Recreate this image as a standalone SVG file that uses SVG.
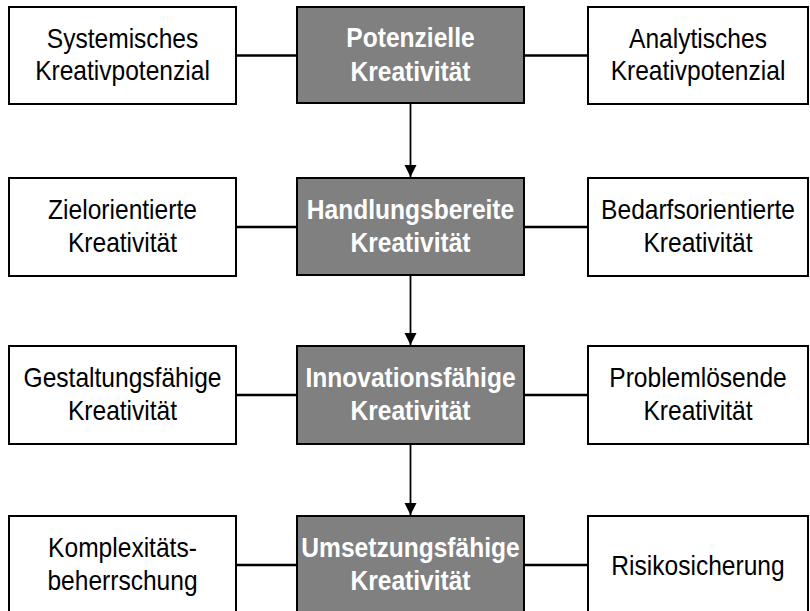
<svg xmlns="http://www.w3.org/2000/svg" width="810" height="611" viewBox="0 0 810 611">
<defs>
<style>
.side rect{fill:#fff;stroke:#000;stroke-width:2}
.core rect{fill:#808080;stroke:#000;stroke-width:2}
text{font-family:"Liberation Sans",Arial,sans-serif;font-size:27px;text-anchor:middle}
.side text{fill:#000}
.core text{fill:#fff;font-weight:bold}
.h{stroke:#000;stroke-width:2.5;fill:none}
.v{stroke:#000;stroke-width:1.8;fill:none}
</style>
<marker id="ah" viewBox="0 0 12 14" refX="12" refY="7" markerWidth="12" markerHeight="14" markerUnits="userSpaceOnUse" orient="auto">
<path d="M0,1 L12,7 L0,13 Z" fill="#000"/>
</marker>
</defs>
<rect width="810" height="611" fill="#fff"/>
<g id="connectors">
<line class="h" x1="236" y1="55.5" x2="297" y2="55.5"/>
<line class="h" x1="524" y1="55.5" x2="588" y2="55.5"/>
<line class="h" x1="236" y1="227" x2="297" y2="227"/>
<line class="h" x1="524" y1="227" x2="588" y2="227"/>
<line class="h" x1="236" y1="395" x2="297" y2="395"/>
<line class="h" x1="524" y1="395" x2="588" y2="395"/>
<line class="h" x1="236" y1="565" x2="297" y2="565"/>
<line class="h" x1="524" y1="565" x2="588" y2="565"/>
<line class="v" x1="410.5" y1="103" x2="410.5" y2="177" marker-end="url(#ah)"/>
<line class="v" x1="410.5" y1="275" x2="410.5" y2="345" marker-end="url(#ah)"/>
<line class="v" x1="410.5" y1="444" x2="410.5" y2="515" marker-end="url(#ah)"/>
</g>
<g id="n1l" class="side"><rect x="9" y="7" width="227" height="97"/>
<text transform="matrix(0.91 0 0 1 122.5 48)">Systemisches</text>
<text transform="matrix(0.91 0 0 1 122.5 80)">Kreativpotenzial</text></g>
<g id="n1c" class="core"><rect x="297" y="7" width="227" height="96"/>
<text transform="matrix(0.91 0 0 1 410.5 47)">Potenzielle</text>
<text transform="matrix(0.91 0 0 1 410.5 81)">Kreativität</text></g>
<g id="n1r" class="side"><rect x="588" y="7" width="220" height="97"/>
<text transform="matrix(0.91 0 0 1 698 48)">Analytisches</text>
<text transform="matrix(0.91 0 0 1 698 80)">Kreativpotenzial</text></g>

<g id="n2l" class="side"><rect x="9" y="178" width="227" height="98"/>
<text transform="matrix(0.91 0 0 1 122.5 219)">Zielorientierte</text>
<text transform="matrix(0.91 0 0 1 122.5 252)">Kreativität</text></g>
<g id="n2c" class="core"><rect x="297" y="178" width="227" height="97"/>
<text transform="matrix(0.91 0 0 1 410.5 219)">Handlungsbereite</text>
<text transform="matrix(0.91 0 0 1 410.5 252)">Kreativität</text></g>
<g id="n2r" class="side"><rect x="588" y="178" width="220" height="98"/>
<text transform="matrix(0.91 0 0 1 698 219)">Bedarfsorientierte</text>
<text transform="matrix(0.91 0 0 1 698 252)">Kreativität</text></g>

<g id="n3l" class="side"><rect x="9" y="346" width="227" height="98"/>
<text transform="matrix(0.91 0 0 1 122.5 387)">Gestaltungsfähige</text>
<text transform="matrix(0.91 0 0 1 122.5 420)">Kreativität</text></g>
<g id="n3c" class="core"><rect x="297" y="346" width="227" height="98"/>
<text transform="matrix(0.91 0 0 1 410.5 387)">Innovationsfähige</text>
<text transform="matrix(0.91 0 0 1 410.5 420)">Kreativität</text></g>
<g id="n3r" class="side"><rect x="588" y="346" width="220" height="98"/>
<text transform="matrix(0.91 0 0 1 698 387)">Problemlösende</text>
<text transform="matrix(0.91 0 0 1 698 420)">Kreativität</text></g>

<g id="n4l" class="side"><rect x="9" y="516" width="227" height="98"/>
<text transform="matrix(0.91 0 0 1 122.5 557)">Komplexitäts-</text>
<text transform="matrix(0.91 0 0 1 122.5 590)">beherrschung</text></g>
<g id="n4c" class="core"><rect x="297" y="516" width="227" height="98"/>
<text transform="matrix(0.91 0 0 1 410.5 557)">Umsetzungsfähige</text>
<text transform="matrix(0.91 0 0 1 410.5 590)">Kreativität</text></g>
<g id="n4r" class="side"><rect x="588" y="516" width="220" height="98"/>
<text transform="matrix(0.91 0 0 1 698 575)">Risikosicherung</text></g>
</svg>
